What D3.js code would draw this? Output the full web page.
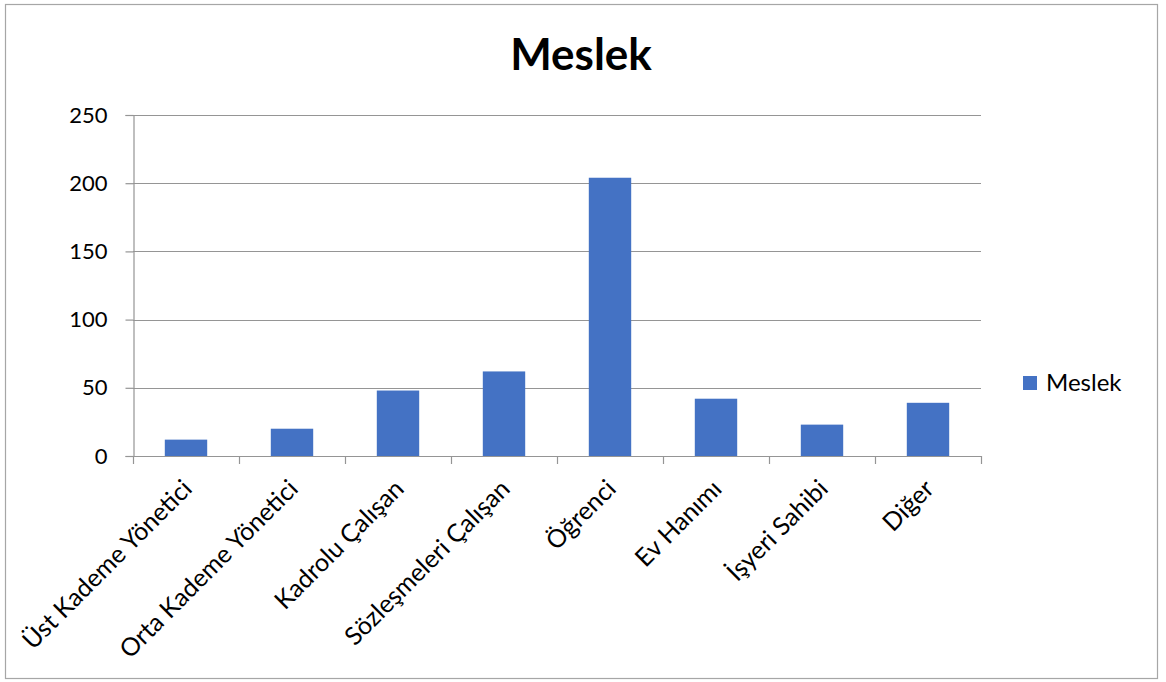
<!DOCTYPE html>
<html>
<head>
<meta charset="utf-8">
<script src="https://cdn.jsdelivr.net/npm/d3@7"></script>
<style>
  body { margin: 0; background: #fff; }
  text { font-family: Lato, "Open Sans", sans-serif; fill: #000; }
</style>
</head>
<body>
<div id="chart"></div>
<script>
// Meslek bar chart

const categories = ['Üst Kademe Yönetici', 'Orta Kademe Yönetici', 'Kadrolu Çalışan',
  'Sözleşmeleri Çalışan', 'Öğrenci', 'Ev Hanımı', 'İşyeri Sahibi', 'Diğer'];
const values = [12, 20, 48, 62, 204, 42, 23, 39];
const yTicks = [0, 50, 100, 150, 200, 250];
const seriesName = 'Meslek';

const width = 1166, height = 682;
const margin = { top: 115, bottom: 226, left: 133, right: 185 };

const svg = d3.select('#chart').append('svg')
  .attr('width', width)
  .attr('height', height);

// outer frame
svg.append('rect')
  .attr('x', 5.5).attr('y', 4.5)
  .attr('width', 1152).attr('height', 674)
  .attr('fill', 'none')
  .attr('stroke', '#a6a6a6')
  .attr('stroke-width', 1.2);

const x = d3.scaleBand()
  .domain(categories)
  .range([margin.left, width - margin.right])
  .paddingInner(0.6)
  .paddingOuter(0.3);

const y = d3.scaleLinear()
  .domain([0, 250])
  .range([height - margin.bottom, margin.top]);

// gridlines
svg.append('g')
  .selectAll('line')
  .data(yTicks.slice(1))
  .join('line')
    .attr('x1', margin.left).attr('x2', width - margin.right)
    .attr('y1', d => Math.round(y(d)) + 0.5).attr('y2', d => Math.round(y(d)) + 0.5)
    .attr('stroke', '#959595')
    .attr('stroke-width', 1.2);

// bars
svg.append('g')
  .attr('fill', '#4472c4')
  .selectAll('rect')
  .data(values)
  .join('rect')
    .attr('x', (d, i) => x(categories[i]))
    .attr('y', d => y(d))
    .attr('width', x.bandwidth())
    .attr('height', d => y(0) - y(d));

// y axis
const yAxis = svg.append('g')
  .attr('transform', `translate(${margin.left + 0.5},0)`)
  .call(d3.axisLeft(y).tickValues(yTicks).tickSize(8).tickPadding(18));
yAxis.selectAll('line, path').attr('stroke', '#959595').attr('stroke-width', 1.2);
yAxis.selectAll('text').attr('font-size', '22px').attr('font-family', 'Lato');

// x axis line and boundary ticks
const gap = (x.step() - x.bandwidth()) / 2;
const bounds = categories.map(c => x(c) - gap).concat([width - margin.right]);
const xg = svg.append('g');
xg.append('line')
  .attr('x1', margin.left).attr('x2', width - margin.right)
  .attr('y1', y(0) + 0.5).attr('y2', y(0) + 0.5)
  .attr('stroke', '#959595').attr('stroke-width', 1.2);
xg.selectAll('line.tick')
  .data(bounds)
  .join('line')
    .attr('class', 'tick')
    .attr('x1', d => Math.round(d) + 0.5).attr('x2', d => Math.round(d) + 0.5)
    .attr('y1', y(0)).attr('y2', y(0) + 8)
    .attr('stroke', '#959595').attr('stroke-width', 1.2);

// rotated category labels
svg.append('g')
  .selectAll('text')
  .data(categories)
  .join('text')
    .attr('transform', d => `translate(${x(d) + x.bandwidth() / 2 - 5},${y(0) + 22}) rotate(-45)`)
    .attr('text-anchor', 'end')
    .attr('dy', '0.7em')
    .attr('font-size', '25px')
    .text(d => d);

// title
svg.append('text')
  .attr('x', 581).attr('y', 70)
  .attr('text-anchor', 'middle')
  .attr('font-size', '44px')
  .attr('font-weight', 'bold')
  .text(seriesName);

// legend
const legend = svg.append('g').attr('transform', 'translate(1023,376)');
legend.append('rect')
  .attr('width', 14).attr('height', 14)
  .attr('fill', '#4472c4');
legend.append('text')
  .attr('x', 23).attr('y', 15)
  .attr('font-size', '24px')
  .text(seriesName);
</script>
</body>
</html>
